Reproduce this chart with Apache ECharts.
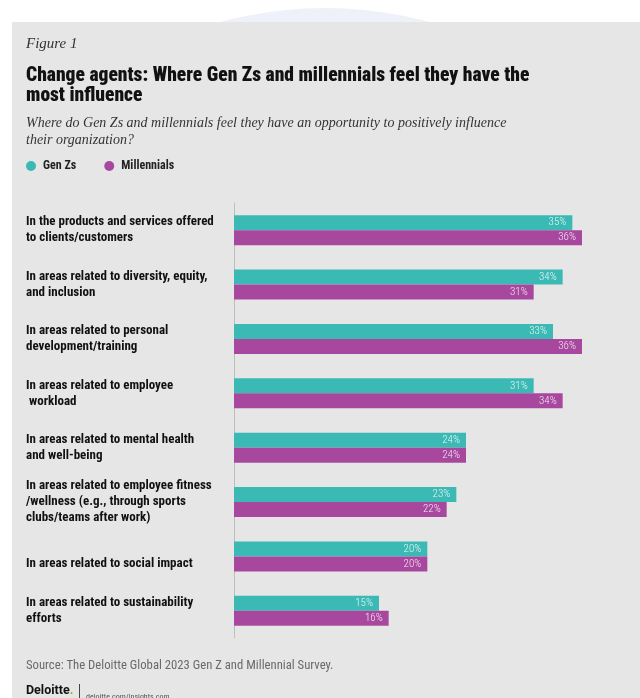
<!DOCTYPE html>
<html>
<head>
<meta charset="utf-8">
<script src="https://cdn.jsdelivr.net/npm/echarts@6/dist/echarts.min.js"></script>
<style>html,body{margin:0;padding:0;background:#fff;}#c{width:640px;height:698px;}</style>
</head>
<body>
<div id="c"></div>
<script>
var categories = [
  "In the products and services offered\nto clients/customers",
  "In areas related to diversity, equity,\nand inclusion",
  "In areas related to personal\ndevelopment/training",
  "In areas related to employee\n workload",
  "In areas related to mental health\nand well-being",
  "In areas related to employee fitness\n/wellness (e.g., through sports\nclubs/teams after work)",
  "In areas related to social impact",
  "In areas related to sustainability\nefforts"
];
var genZ = [35, 34, 33, 31, 24, 23, 20, 15];
var millennials = [36, 31, 36, 34, 24, 22, 20, 16];
var seriesNames = ["Gen Zs", "Millennials"];

var COND = '"Roboto Condensed", "Open Sans Condensed", sans-serif';
var SERIF = '"Liberation Serif", "DejaVu Serif", serif';
var TEAL = '#3bb9b4';
var PURPLE = '#a7489e';

var chart = echarts.init(document.getElementById('c'), null, {renderer: 'canvas'});
var option = {
  backgroundColor: '#ffffff',
  animation: false,
  graphic: [
    {type: 'circle', shape: {cx: 325, cy: 409, r: 401}, style: {fill: '#eef1f8'}, z: -10},
    {type: 'rect', shape: {x: 0, y: 22, width: 12, height: 700}, style: {fill: '#ffffff'}, z: -6},
    {type: 'rect', shape: {x: 12, y: 22, width: 640, height: 700}, style: {fill: '#e6e6e6'}, z: -5},
    {type: 'text', left: 26, top: 37, style: {text: 'Figure 1', font: 'italic 15px ' + SERIF, fill: '#333'}},
    {type: 'text', left: 26, top: 66, style: {text: 'Change agents: Where Gen Zs and millennials feel they have the\nmost influence', font: '900 19.5px ' + COND, fill: '#111', lineHeight: 20}},
    {type: 'text', left: 26, top: 115, style: {text: 'Where do Gen Zs and millennials feel they have an opportunity to positively influence\ntheir organization?', font: 'italic 14px ' + SERIF, fill: '#333', lineHeight: 17}},
    {type: 'text', left: 26, top: 659, style: {text: 'Source: The Deloitte Global 2023 Gen Z and Millennial Survey.', font: '12.7px ' + COND, fill: '#6a6a6a'}},
    {type: 'text', left: 26, top: 684, style: {
      text: '{a|Deloitte}{g|.}',
      rich: {a: {font: 'bold 12.5px Roboto, sans-serif', fill: '#111'}, g: {font: 'bold 12.5px Roboto, sans-serif', fill: '#86bc25'}}
    }},
    {type: 'rect', shape: {x: 79, y: 684, width: 1, height: 14}, style: {fill: '#444'}},
    {type: 'text', left: 86, top: 693, style: {text: 'deloitte.com/insights.com', font: '8px ' + COND, fill: '#555'}}
  ],
  legend: {
    left: 21, top: 155,
    icon: 'circle', itemWidth: 10, itemHeight: 10, itemGap: 28,
    data: seriesNames,
    textStyle: {fontFamily: COND, fontWeight: 'bold', fontSize: 12, color: '#222', padding: [0, 0, 0, 2]}
  },
  grid: {left: 234, top: 203, width: 386.67, height: 435},
  xAxis: {
    type: 'value', min: 0, max: 40,
    show: false
  },
  yAxis: {
    type: 'category', inverse: true, data: categories,
    axisLine: {show: true, lineStyle: {color: '#bdbdbd', width: 1}},
    axisTick: {show: false},
    axisLabel: {
      align: 'left', margin: 208,
      fontFamily: COND, fontWeight: 'bold', fontSize: 13, color: '#111', lineHeight: 16,
      formatter: function (v, i) { return i === 6 ? '{low|' + v + '}' : v; },
      rich: {low: {padding: [14, 0, 0, 0], fontFamily: COND, fontWeight: 'bold', fontSize: 13, color: '#111'}}
    }
  },
  series: [
    {
      name: seriesNames[0], type: 'bar', data: genZ, barWidth: 15, barGap: '0%',
      itemStyle: {color: TEAL},
      label: {show: true, position: 'insideRight', distance: 6, formatter: '{c}%', color: '#e3f6f5', fontFamily: COND, fontWeight: 300, fontSize: 11}
    },
    {
      name: seriesNames[1], type: 'bar', data: millennials, barWidth: 15, barGap: '0%',
      itemStyle: {color: PURPLE},
      label: {show: true, position: 'insideRight', distance: 6, formatter: '{c}%', color: '#f3e3f1', fontFamily: COND, fontWeight: 300, fontSize: 11}
    }
  ]
};
chart.setOption(option);
</script>
</body>
</html>
